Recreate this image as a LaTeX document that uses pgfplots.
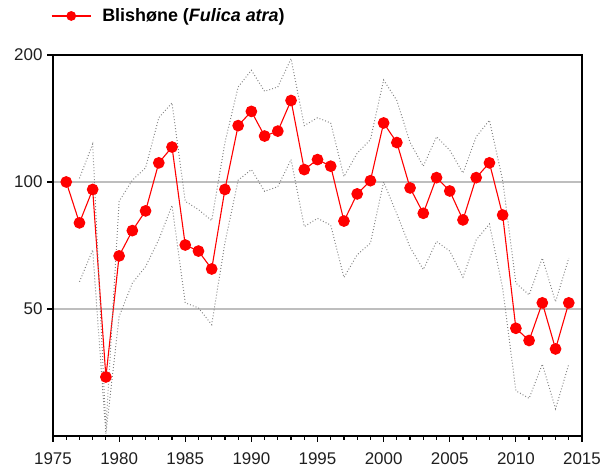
\documentclass[border=0pt]{standalone}
\usepackage{pgfplots}
\pgfplotsset{compat=1.18}
\usepackage{fontspec}
\setmainfont{Liberation Sans}
\definecolor{ptred}{RGB}{255,0,0}
\definecolor{dotgray}{RGB}{130,130,130}
\definecolor{gridgray}{RGB}{190,190,190}
\begin{document}
\begin{tikzpicture}
\useasboundingbox (-53bp,-39bp) rectangle (551bp,436bp);
\begin{axis}[
  at={(0,0)}, anchor=south west,
  scale only axis, width=529bp, height=381bp,
  xmin=1975, xmax=2015,
  ymode=log, log basis y=2,
  ymin=25, ymax=200,
  xtick={1975,1980,...,2015},
  minor xtick={1976,...,2014},
  ytick={50,100,200},
  yticklabels={50,100,200},
  yminorticks=false,
  xticklabel={\pgfmathprintnumber[1000 sep={}]{\tick}},
  /pgf/number format/assume math mode=true,
  tick label style={font=\fontsize{17}{17}\selectfont, text=black!88},
  tick align=outside,
  major tick length=6bp, minor tick length=4bp,
  every tick/.style={black, line width=1.2bp},
  xtick pos=bottom, ytick pos=left,
  axis line style={black, line width=1.8bp},
  ymajorgrids,
  grid style={gridgray, line width=1.3bp},
  yticklabel style={xshift=-1bp},
  xticklabel style={yshift=-7bp},
  clip=true,
  legend style={draw=none, fill=none, at={(0,1.1024)}, anchor=west, xshift=-2bp,
    inner sep=0pt, font=\fontsize{18}{18}\selectfont\bfseries,
    nodes={inner sep=0pt},
    legend cell align=left, /tikz/every odd column/.style={column sep=11bp}},
  legend image code/.code={\draw[#1,mark=none] (0bp,0bp) -- (39bp,0bp); \draw[#1, mark size=4.3bp] plot coordinates {(19.5bp,0bp)};},
]
\addplot[ptred, line width=1.1bp, mark=*, mark size=5.3bp, mark options={fill=ptred, draw=ptred, solid}] coordinates {
(1976,100) (1977,80) (1978,96) (1979,34.5) (1980,66.8) (1981,76.7) (1982,85.4)
(1983,111) (1984,121) (1985,70.9) (1986,68.6) (1987,62.2) (1988,96) (1989,136)
(1990,147) (1991,128.5) (1992,132) (1993,156) (1994,107) (1995,113) (1996,109)
(1997,80.8) (1998,93.7) (1999,100.7) (2000,138) (2001,124) (2002,96.8) (2003,84.3)
(2004,102.4) (2005,95.2) (2006,81.3) (2007,102.4) (2008,111) (2009,83.5)
(2010,45.0) (2011,42.1) (2012,51.7) (2013,40.2) (2014,51.7)
};
\addlegendentry{Blishøne (\textit{Fulica atra})}
\addplot[dotgray, line width=1bp, dash pattern=on 0.9bp off 2.1bp, forget plot] coordinates {
(1977,102) (1978,123) (1979,26) (1980,90) (1981,101) (1982,108) (1983,142) (1984,154)
(1985,90) (1986,86) (1987,81) (1988,124) (1989,168) (1990,184) (1991,164) (1992,168)
(1993,196) (1994,136) (1995,142) (1996,138) (1997,103) (1998,117) (1999,126)
(2000,174.5) (2001,156) (2002,124) (2003,109) (2004,128) (2005,119) (2006,105)
(2007,128) (2008,140) (2009,101) (2010,57.6) (2011,54) (2012,66) (2013,52) (2014,66)
};
\addplot[dotgray, line width=1bp, dash pattern=on 0.9bp off 2.1bp, forget plot] coordinates {
(1977,58) (1978,69) (1979,25.3) (1980,48) (1981,57.6) (1982,63) (1983,73) (1984,88)
(1985,51.7) (1986,50.3) (1987,45.9) (1988,71.7) (1989,101) (1990,107) (1991,95)
(1992,97.5) (1993,113) (1994,78.4) (1995,82) (1996,79) (1997,59.4) (1998,67.2)
(1999,71.6) (2000,100) (2001,84) (2002,70) (2003,62) (2004,72.3) (2005,68.6)
(2006,59.5) (2007,72.9) (2008,79.5) (2009,56) (2010,32) (2011,30.7) (2012,37)
(2013,29) (2014,37)
};
\end{axis}
\end{tikzpicture}
\end{document}
